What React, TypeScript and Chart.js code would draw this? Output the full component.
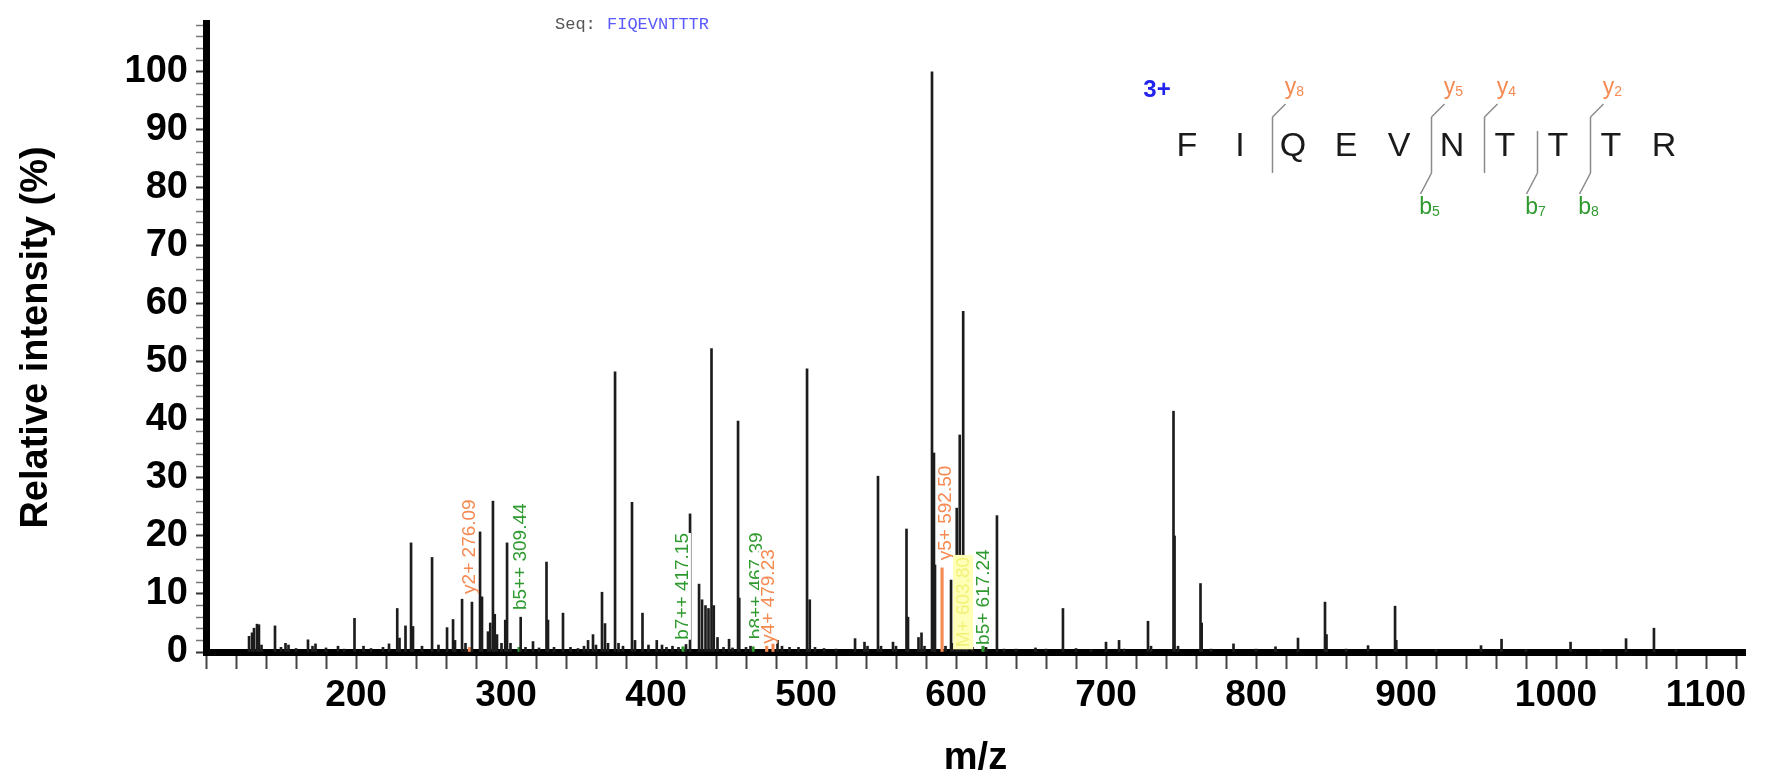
import React, { useEffect, useRef } from 'react';
import { Chart, registerables } from 'chart.js';

Chart.register(...registerables);

// ---------- data ----------
const peakMz = [
  128.7, 130.7, 132, 134, 135.3, 137, 146, 150, 153, 155, 160, 168, 171, 173, 180, 188, 192, 199, 205, 210, 218, 222,
  227.5, 229, 233, 236.7, 238, 244, 250.7, 255, 260.7, 264.7, 266, 270.7, 273, 277.3, 282.7, 284, 288, 289.5, 291.3,
  292.5, 294, 297, 299.5, 300.7, 303, 309.8, 313, 318, 322, 327, 328, 332, 338, 343, 348, 352, 354.7, 358, 360, 364,
  366, 368, 372.7, 375, 378, 384, 386, 391, 395, 400.5, 404, 407, 411, 415, 420, 422.7, 428.7, 430.7, 433, 435, 437,
  438.5, 441, 445, 448.7, 451, 454.7, 455.5, 460, 463, 481, 484, 489, 495, 500.7, 502.5, 506, 512, 520, 532.7, 539,
  541, 548, 550, 558, 560, 567, 568, 575, 577, 579, 584, 585.3, 586, 593, 596.7, 598, 600.5, 602.5, 604.8, 607, 611,
  620, 627.3, 632, 640, 653, 660, 671.3, 680, 690, 700, 708.7, 712, 728, 730, 745, 745.7, 748, 763, 763.8, 770, 785,
  800, 813, 828, 846, 847, 860, 874.7, 892.7, 893.5, 920, 950, 963.7, 980, 1009.7, 1030, 1046.7, 1065.3, 1080,
];
const peakIntensity = [
  2.7, 3.3, 4.1, 4.8, 4.7, 1.2, 4.5, 0.8, 1.5, 1.2, 0.6, 2.1, 1.0, 1.4, 0.7, 1.0, 0.5, 5.8, 1.0, 0.6, 0.8, 1.4,
  7.5, 2.4, 4.5, 18.8, 4.4, 1.0, 16.3, 1.2, 4.2, 5.6, 2.0, 9.1, 1.5, 8.6, 20.7, 9.5, 3.5, 5.0, 26.0,
  6.5, 3.0, 1.5, 5.5, 18.8, 1.5, 6.0, 0.8, 1.8, 0.7, 15.5, 5.5, 0.8, 6.7, 0.8, 0.6, 1.0, 2.0, 3.0, 1.2, 10.3,
  4.9, 1.5, 48.3, 1.5, 1.0, 25.8, 2.0, 6.7, 1.2, 2.0, 1.2, 0.8, 1.0, 0.8, 1.3, 23.8, 11.7, 9.0, 8.0, 7.5, 52.3,
  8.0, 2.5, 0.8, 2.2, 0.7, 39.8, 9.3, 0.8, 1.0, 2.0, 1.0, 0.8, 0.8, 48.8, 9.0, 0.8, 0.6, 0.5, 2.3, 1.7,
  1.0, 30.3, 1.0, 1.7, 1.0, 21.2, 6.0, 2.5, 3.3, 1.0, 100, 34.3, 15.0, 1.0, 12.4, 1.5, 24.8, 37.4, 58.7, 1.5, 0.8,
  0.8, 23.5, 0.5, 0.5, 0.7, 0.5, 7.5, 0.6, 0.4, 1.7, 2.0, 0.5, 5.3, 1.0, 41.5, 20.0, 1.0, 11.8, 5.0, 0.5, 1.4,
  0.5, 0.9, 2.4, 8.6, 3.0, 0.5, 1.1, 7.9, 2.0, 0.4, 1.1, 2.2, 0.4, 1.7, 0.4, 2.3, 4.1, 0.4,
];

// matched fragment peaks
const yIonMz = [275.6, 473.8, 478.0, 590.7];
const yIonIntensity = [0.8, 1.0, 1.5, 14.5];
const bIonMz = [308.7, 418.0, 464.7, 618.0];
const bIonIntensity = [0.8, 0.9, 0.9, 1.0];

// fragment annotations (text, m/z, intensity where the label starts, ion kind)
const annText = ['y2+ 276.09', 'b5++ 309.44', 'b7++ 417.15', 'b8++ 467.39', 'y4+ 479.23', 'y5+ 592.50', 'M+ 603.80', 'b5+ 617.24'];
const annMz = [275.3, 309.3, 417.3, 466.7, 474.7, 592.7, 604.7, 618.0];
const annStart = [9.5, 6.7, 1.6, 1.7, 0.9, 15.3, 0.3, 0.7];
const annKind = ['y', 'b', 'b', 'b', 'y', 'y', 'm', 'b'];

// peptide
const sequence = 'FIQEVNTTTR';
const charge = '3+';
const yCuts = [1, 4, 5, 7];
const yCutLabels = ['8', '5', '4', '2'];
const bCuts = [4, 6, 7];
const bCutLabels = ['5', '7', '8'];

const xTickStep = 20;
const yTickStep = 2;

// ---------- styles ----------
const FONT = '"Liberation Sans", Arial, Helvetica, sans-serif';
const ORANGE = '#f58a52';
const GREEN = '#2f9a2f';
const BLUE = '#2323ee';

const decorPlugin = {
  id: 'decor',
  afterDatasetsDraw(chart: any) {
    const { ctx } = chart;
    const xs = chart.scales.x;
    const ys = chart.scales.y;
    ctx.save();
    ctx.font = `19px ${FONT}`;
    for (let i = 0; i < annText.length; i++) {
      const px = xs.getPixelForValue(annMz[i]);
      const py = ys.getPixelForValue(annStart[i]) - 3;
      const w = ctx.measureText(annText[i]).width;
      ctx.save();
      ctx.translate(px, py);
      ctx.rotate(-Math.PI / 2);
      if (annKind[i] === 'm') {
        ctx.fillStyle = '#ffffb8';
        ctx.fillRect(-2, -10, w + 4, 20);
        ctx.fillStyle = '#f2f27a';
      } else {
        ctx.fillStyle = '#ffffff';
        ctx.fillRect(0, -9, w, 18);
        ctx.fillStyle = annKind[i] === 'y' ? ORANGE : GREEN;
      }
      ctx.textAlign = 'left';
      ctx.textBaseline = 'middle';
      ctx.fillText(annText[i], 0, 1);
      ctx.restore();
    }
    ctx.restore();
  },
  afterDraw(chart: any) {
    const { ctx } = chart;
    ctx.save();
    // header
    ctx.font = `17px "Liberation Mono", "Courier New", monospace`;
    ctx.textBaseline = 'middle';
    ctx.textAlign = 'left';
    ctx.fillStyle = '#555';
    ctx.fillText('Seq:', 555, 24);
    ctx.fillStyle = '#5a5aff';
    ctx.fillText(sequence, 607, 24);

    // peptide fragmentation map
    const x0 = 1187;
    const dx = 53;
    const rowY = 147;
    ctx.font = `bold 24px ${FONT}`;
    ctx.fillStyle = BLUE;
    ctx.textAlign = 'center';
    ctx.fillText(charge, 1157, 90);
    ctx.font = `34px ${FONT}`;
    ctx.fillStyle = '#1a1a1a';
    for (let i = 0; i < sequence.length; i++) {
      ctx.fillText(sequence[i], x0 + dx * i, rowY);
    }
    ctx.strokeStyle = '#8a8a8a';
    ctx.lineWidth = 1.5;
    const cutX = (i: number) => x0 + dx * i + dx / 2 + 6;
    const allCuts = Array.from(new Set([...yCuts, ...bCuts]));
    for (const c of allCuts) {
      const mx = cutX(c);
      const hasY = yCuts.includes(c);
      ctx.beginPath();
      ctx.moveTo(mx, hasY ? 117 : 131);
      ctx.lineTo(mx, 173);
      ctx.stroke();
    }
    const drawIon = (letter: string, num: string, x: number, y: number, color: string) => {
      ctx.fillStyle = color;
      ctx.font = `23px ${FONT}`;
      ctx.textAlign = 'left';
      const w = ctx.measureText(letter).width;
      ctx.font = `14px ${FONT}`;
      const wn = ctx.measureText(num).width;
      const start = x - (w + wn) / 2;
      ctx.font = `23px ${FONT}`;
      ctx.fillText(letter, start, y);
      ctx.font = `14px ${FONT}`;
      ctx.fillText(num, start + w, y + 4);
    };
    yCuts.forEach((c, k) => {
      const mx = cutX(c);
      ctx.beginPath();
      ctx.moveTo(mx, 117);
      ctx.lineTo(mx + 13, 104);
      ctx.stroke();
      drawIon('y', yCutLabels[k], mx + 22, 88, ORANGE);
    });
    bCuts.forEach((c, k) => {
      const mx = cutX(c);
      ctx.beginPath();
      ctx.moveTo(mx, 173);
      ctx.lineTo(mx - 11, 194);
      ctx.stroke();
      drawIon('b', bCutLabels[k], mx - 2, 208, GREEN);
    });
    ctx.restore();
  },
};

export default function App() {
  const canvasRef = useRef<HTMLCanvasElement | null>(null);

  useEffect(() => {
    const canvas = canvasRef.current;
    if (!canvas) return;
    const toPts = (xs: number[], ys: number[]) => xs.map((x, i) => ({ x, y: ys[i] }));
    const chart = new Chart(canvas, {
      type: 'bar',
      data: {
        datasets: [
          {
            label: 'peaks',
            data: toPts(peakMz, peakIntensity) as any,
            backgroundColor: '#1c1c1c',
            borderWidth: 0,
            barThickness: 2,
            grouped: false,
          } as any,
          {
            label: 'y ions',
            data: toPts(yIonMz, yIonIntensity) as any,
            backgroundColor: ORANGE,
            borderWidth: 0,
            barThickness: 2.5,
            grouped: false,
          } as any,
          {
            label: 'b ions',
            data: toPts(bIonMz, bIonIntensity) as any,
            backgroundColor: GREEN,
            borderWidth: 0,
            barThickness: 2.5,
            grouped: false,
          } as any,
        ],
      },
      options: {
        responsive: false,
        maintainAspectRatio: false,
        devicePixelRatio: 1,
        animation: false,
        events: [],
        layout: { padding: { left: 0, right: 27, top: 23, bottom: 0 } },
        plugins: { legend: { display: false }, tooltip: { enabled: false }, title: { display: false } },
        scales: {
          x: {
            type: 'linear',
            min: 100,
            max: 1126,
            offset: false,
            afterFit: (s: any) => { s.height = 129; s.paddingLeft = 0; s.paddingRight = 0; },
            grid: { offset: false, drawOnChartArea: false, drawTicks: true, tickLength: 17, tickColor: '#444', tickWidth: 2 },
            border: { display: true, color: '#000', width: 7 },
            ticks: {
              stepSize: xTickStep,
              includeBounds: false,
              autoSkip: false,
              maxRotation: 0,
              minRotation: 0,
              padding: 5,
              color: '#000',
              font: { family: FONT, size: 37, weight: 'bold' },
              callback: (v: any) => (Number(v) % 100 === 0 && Number(v) !== 100 ? String(v) : ''),
            },
            title: {
              display: true,
              text: 'm/z',
              color: '#000',
              font: { family: FONT, size: 38, weight: 'bold' },
              padding: { top: 0, bottom: 0 },
            },
          } as any,
          y: {
            type: 'linear',
            min: 0,
            max: 108.4,
            afterFit: (s: any) => { s.width = 206; s.paddingTop = 0; s.paddingBottom = 0; },
            grid: {
              drawOnChartArea: false,
              drawTicks: true,
              tickLength: 10,
              tickColor: (c: any) => (c.tick && c.tick.value % 10 === 0 ? '#333' : '#777'),
              tickWidth: (c: any) => (c.tick && c.tick.value % 10 === 0 ? 2 : 1.5),
            },
            border: { display: true, color: '#000', width: 7 },
            ticks: {
              stepSize: yTickStep,
              includeBounds: false,
              autoSkip: false,
              padding: 8,
              color: '#000',
              font: { family: FONT, size: 38, weight: 'bold' },
              callback: (v: any) => (Number(v) % 10 === 0 ? String(v) : ''),
            },
            title: {
              display: true,
              text: 'Relative intensity (%)',
              color: '#000',
              font: { family: FONT, size: 38, weight: 'bold' },
              padding: { top: 14, bottom: 0 },
            },
          } as any,
        },
      },
      plugins: [decorPlugin],
    });
    return () => chart.destroy();
  }, []);

  return (
    <div style={{ position: 'fixed', left: 0, top: 0, width: 1772, height: 781, background: '#fff' }}>
      <canvas ref={canvasRef} width={1772} height={781} style={{ width: 1772, height: 781, display: 'block' }} />
    </div>
  );
}
